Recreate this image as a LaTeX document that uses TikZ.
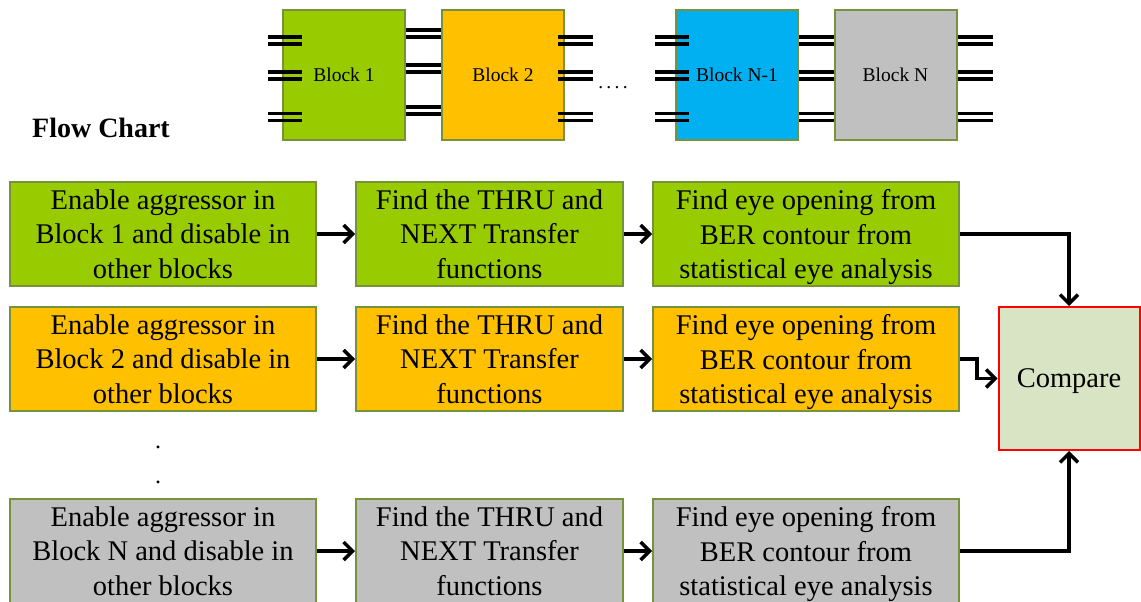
\documentclass[tikz,border=0pt]{standalone}
\usepackage{fontspec}
\setmainfont{Liberation Serif}
\usetikzlibrary{arrows.meta}
\definecolor{leaf}{HTML}{99CC00}
\definecolor{amber}{HTML}{FFC000}
\definecolor{sky}{HTML}{00B0F0}
\definecolor{silver}{HTML}{C0C0C0}
\definecolor{rim}{HTML}{76923C}
\definecolor{pale}{HTML}{D8E4C4}

\begin{document}
\begin{tikzpicture}[x=1pt,y=-1pt,
    block/.style={draw=rim,line width=2pt,minimum width=122pt,minimum height=130pt,
      font=\fontsize{19.5}{23}\selectfont},
    stepbox/.style={draw=rim,line width=2pt,minimum height=104pt,align=center,
      inner sep=2pt,text depth=-7pt,font=\fontsize{28.5}{34.5}\selectfont},
    wire/.style={line width=3.5pt},
    link/.style={line width=3.5pt,-{Straight Barb[length=9pt,width=18pt]}}]

        \useasboundingbox (0,0) rectangle (1141,602);

        %Blocks
        \node [block, fill=leaf]   (b1)  at (344,75)   {Block 1};
        \node [block, fill=amber]  (b2)  at (503,75)   {Block 2};
        \node [block, fill=sky]    (bn1) at (737,75)   {Block N-1};
        \node [block, fill=silver] (bn)  at (895.5,75) {Block N};
        \node [font=\fontsize{19.5}{23}\selectfont] (more) at (613,88) {.\,.\,.\,.};

        %Pins
        \foreach \y in {40.5,75.5,117}{
          \draw [wire] (268,\y-3.5) -- (302,\y-3.5);
          \draw [wire] (268,\y+3.5) -- (302,\y+3.5);
          \draw [wire] (558,\y-3.5) -- (593,\y-3.5);
          \draw [wire] (558,\y+3.5) -- (593,\y+3.5);
          \draw [wire] (655,\y-3.5) -- (689,\y-3.5);
          \draw [wire] (655,\y+3.5) -- (689,\y+3.5);
          \draw [wire] (bn1.east |- 0,\y-3.5) -- (bn.west |- 0,\y-3.5);
          \draw [wire] (bn1.east |- 0,\y+3.5) -- (bn.west |- 0,\y+3.5);
          \draw [wire] (958,\y-3.5) -- (993,\y-3.5);
          \draw [wire] (958,\y+3.5) -- (993,\y+3.5);
        }
        \foreach \y in {33.5,68.5,110.5}{
          \draw [wire] (b1.east |- 0,\y-3.5) -- (b2.west |- 0,\y-3.5);
          \draw [wire] (b1.east |- 0,\y+3.5) -- (b2.west |- 0,\y+3.5);
        }

        %Flow chart
        \node [font=\bfseries\fontsize{28}{32}\selectfont] (title) at (101,128) {Flow Chart};

        %Block 1 row
        \node [stepbox, fill=leaf, minimum width=306pt] (g1) at (163,234)
          {Enable aggressor in\\Block 1 and disable in\\other blocks};
        \node [stepbox, fill=leaf, minimum width=267pt] (g2) at (489.5,234)
          {Find the THRU and\\NEXT Transfer\\functions};
        \node [stepbox, fill=leaf, minimum width=306pt] (g3) at (806,234)
          {Find eye opening from\\BER contour from\\statistical eye analysis};

        %Block 2 row
        \node [stepbox, fill=amber, minimum width=306pt] (o1) at (163,359)
          {Enable aggressor in\\Block 2 and disable in\\other blocks};
        \node [stepbox, fill=amber, minimum width=267pt] (o2) at (489.5,359)
          {Find the THRU and\\NEXT Transfer\\functions};
        \node [stepbox, fill=amber, minimum width=306pt] (o3) at (806,359)
          {Find eye opening from\\BER contour from\\statistical eye analysis};

        \node [font=\fontsize{24}{28}\selectfont] (dot1) at (158,447) {.};
        \node [font=\fontsize{24}{28}\selectfont] (dot2) at (158,482) {.};

        %Block N row
        \node [stepbox, fill=silver, minimum width=306pt] (n1) at (163,551)
          {Enable aggressor in\\Block N and disable in\\other blocks};
        \node [stepbox, fill=silver, minimum width=267pt] (n2) at (489.5,551)
          {Find the THRU and\\NEXT Transfer\\functions};
        \node [stepbox, fill=silver, minimum width=306pt] (n3) at (806,551)
          {Find eye opening from\\BER contour from\\statistical eye analysis};

        %Compare
        \node [stepbox, draw=red, fill=pale, minimum width=141pt, minimum height=143pt,
          text depth=0pt] (cmp) at (1069,378.5) {Compare};

        %Arrows
        \draw [link] (g1) -- (g2);
        \draw [link] (g2) -- (g3);
        \draw [link] (o1) -- (o2);
        \draw [link] (o2) -- (o3);
        \draw [link] (n1) -- (n2);
        \draw [link] (n2) -- (n3);
        \draw [link] (g3.east) -| (cmp.north);
        \draw [link] (o3.east) -- ++(17,0) |- (cmp.west);
        \draw [link] (n3.east) -| (cmp.south);

      \end{tikzpicture}
\end{document}
